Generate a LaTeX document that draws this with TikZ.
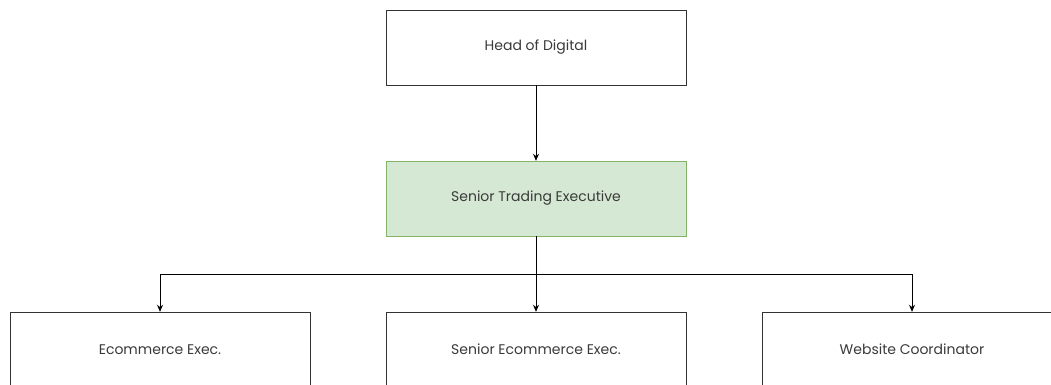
\documentclass[tikz,border=0pt]{standalone}
\usepackage{fontspec}
\setmainfont{Poppins}
\usetikzlibrary{positioning,arrows.meta}
\tikzset{>=Stealth}
\definecolor{boxline}{HTML}{333333}
\definecolor{greenfill}{HTML}{D5E8D4}
\definecolor{greenline}{HTML}{82B366}
\definecolor{txt}{HTML}{3A3A3A}
\tikzset{
  role/.style={draw=boxline,fill=white,minimum width=300pt,minimum height=75pt,
    inner sep=0pt,font=\fontsize{14}{16}\selectfont,text=txt},
  lead/.style={role,draw=greenline,fill=greenfill},
  link/.style={->,>={Stealth[length=7pt,width=6pt]},line width=.8pt}
}

\begin{document}
\begin{tikzpicture}[x=1pt,y=-1pt]
% Fix the frame
\useasboundingbox (0,0) rectangle (1051,385);
\clip (0,0) rectangle (1051,385);

% Draw the boxes
\node[role] (head) at (536,47.5) {Head of Digital};
\node[lead] (senior) at (536,198.5) {Senior Trading Executive};
\node[role] (ecom) at (160,349.5) {Ecommerce Exec.};
\node[role] (secom) at (536,349.5) {Senior Ecommerce Exec.};
\node[role] (web) at (912,349.5) {Website Coordinator};

% Draw the connectors
\coordinate (split) at (536,274);
\draw[link] (head) -- (senior);
\draw[link] (senior) -- (split) -| (ecom);
\draw[link] (split) -- (secom);
\draw[link] (split) -| (web);
\end{tikzpicture}
\end{document}
